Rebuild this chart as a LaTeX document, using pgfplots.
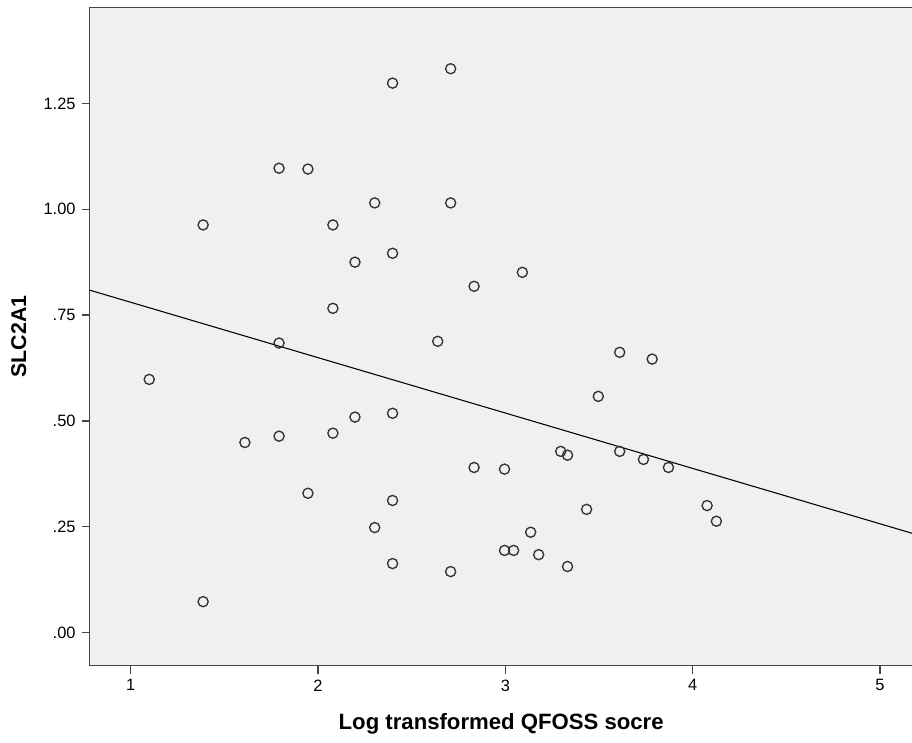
\documentclass[border=0pt]{standalone}
\usepackage{fontspec}
\setmainfont{Liberation Sans}
\usepackage{pgfplots}
\pgfplotsset{compat=1.18}
\definecolor{panel}{HTML}{F0F0F0}
\definecolor{frame}{HTML}{454545}
\definecolor{dot}{HTML}{333333}

\begin{document}
\begin{tikzpicture}[x=1pt,y=1pt]
\begin{axis}[
  at={(0,0)}, anchor=south west,
  scale only axis, width=616.9pt, height=493.1pt,
  xmin=0.78, xmax=5.176, ymin=-0.078, ymax=1.4766,
  axis background/.style={fill=panel},
  axis line style={draw=frame, line width=1pt},
  xtick={1,2,3,4,5},
  ytick={0,0.25,0.5,0.75,1,1.25},
  yticklabels={.00,.25,.50,.75,1.00,1.25},
  xticklabels={1,2,3,4,5},
  tick align=outside, major tick length=6pt,
  tick style={draw=frame, line width=1pt},
  xtick pos=bottom, ytick pos=left,
  /pgf/number format/assume math mode=true,
  ticklabel style={font=\fontsize{12.3}{14}\selectfont, text=black},
  xticklabel style={yshift=-1pt},
  yticklabel style={xshift=-1pt},
  xlabel={Log transformed QFOSS socre},
  ylabel={SLC2A1},
  xlabel style={at={(rel axis cs:0.5,0)}, anchor=base, yshift=-48pt,
                font=\bfseries\fontsize{16.6}{19}\selectfont},
  ylabel style={at={(rel axis cs:0,0.5)}, anchor=center, rotate=0, yshift=53pt,
                font=\bfseries\fontsize{16}{19}\selectfont},
  clip=true,
]
% observations: log of the QFOSS score against SLC2A1 expression
\addplot[only marks, mark=o, mark size=3.8pt,
         mark options={draw=dot, line width=1pt}] table {
x       y
1.0986  0.598
1.3863  0.963
1.3863  0.073
1.6094  0.449
1.7918  1.097
1.7918  0.684
1.7918  0.464
1.9459  1.095
1.9459  0.329
2.0794  0.963
2.0794  0.766
2.0794  0.471
2.1972  0.875
2.1972  0.509
2.3026  1.015
2.3026  0.248
2.3979  1.298
2.3979  0.896
2.3979  0.518
2.3979  0.312
2.3979  0.163
2.6391  0.688
2.7081  1.332
2.7081  1.015
2.7081  0.144
2.8332  0.818
2.8332  0.390
2.9957  0.386
2.9957  0.194
3.0445  0.194
3.0910  0.851
3.1355  0.237
3.1781  0.184
3.2958  0.428
3.3322  0.419
3.3322  0.156
3.4340  0.291
3.4965  0.558
3.6109  0.662
3.6109  0.428
3.7377  0.409
3.7842  0.646
3.8712  0.390
4.0775  0.300
4.1271  0.263
};
% least-squares fit line
\addplot[black, line width=0.8pt] coordinates {(0.78,0.809) (5.176,0.234)};
\end{axis}
\pgfresetboundingbox
\useasboundingbox (-67.125pt,-57.75pt) rectangle (616.3pt,498.75pt);
\end{tikzpicture}
\end{document}
